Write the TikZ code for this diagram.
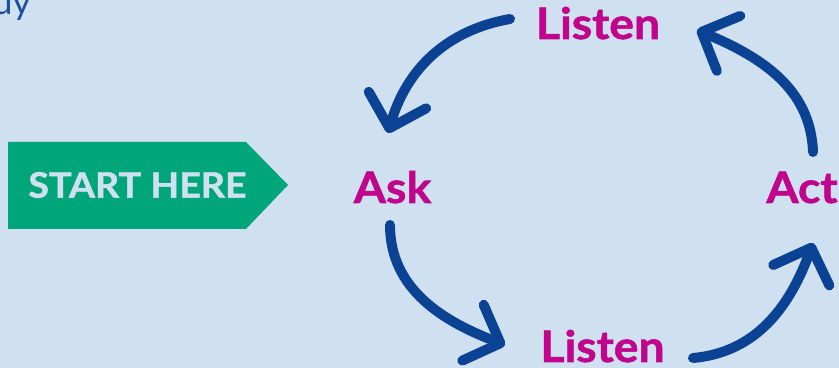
\documentclass[tikz,border=0pt]{standalone}
\usepackage{fontspec}
\setmainfont{Lato}
\newfontfamily\stepfont{Lato}[BoldFeatures={FakeStretch=1.07, FakeBold=1.2}]
\usepackage{xcolor}
\usetikzlibrary{arrows.meta}

\definecolor{bgblue}{HTML}{CFE0F0}
\definecolor{startgreen}{HTML}{00A67A}
\definecolor{stepmagenta}{HTML}{C0058C}
\definecolor{cycleblue}{HTML}{0B4293}
\definecolor{titleblue}{HTML}{1E4F9C}

\tikzset{
  stepword/.style={font=\stepfont\fontsize{37}{37}\selectfont\bfseries, text=stepmagenta, inner sep=0pt, anchor=base},
  cyclearrow/.style={line width=8.5pt, cycleblue, line cap=round,
    -{Straight Barb[length=25pt, width=51pt, round]}},
}

\begin{document}
\begin{tikzpicture}[x=0.03cm, y=0.03cm]
\useasboundingbox[fill=bgblue] (0,0) rectangle (839,368);
\clip (0,0) rectangle (839,368);

% heading cut off at the top
\node[font=\fontsize{30}{30}\selectfont, text=titleblue, inner sep=0pt, anchor=base east] (head) at (31,353) {dy};

% start arrow
\fill[startgreen] (8,139) -- (246,139) -- (288,183) -- (246,226) -- (8,226) -- cycle;
\node[font=\stepfont\fontsize{30}{30}\selectfont\bfseries, text=bgblue, inner sep=0pt] (start) at (137.5,183) {START HERE};

% the four steps
\node[stepword] (ltop) at (598,329) {Listen};
\node[stepword] (ask) at (392.5,165) {Ask};
\node[stepword] (act) at (802,165) {Act};
\node[stepword] (lbot) at (602.5,6) {Listen};

\draw[cyclearrow] ([shift={(-88,20)}]ltop.base) to[out=190, in=74] ([shift={(-4.5,70)}]ask.base);
\draw[cyclearrow] ([shift={(-2.5,-22)}]ask.base) to[out=270, in=159] ([shift={(-97.5,17)}]lbot.base);
\draw[cyclearrow] ([shift={(90.5,4)}]lbot.base) to[out=5, in=250] ([shift={(11,-40)}]act.base);
\draw[cyclearrow] ([shift={(11,51)}]act.base) to[out=92, in=337] ([shift={(99,9)}]ltop.base);
\end{tikzpicture}
\end{document}
